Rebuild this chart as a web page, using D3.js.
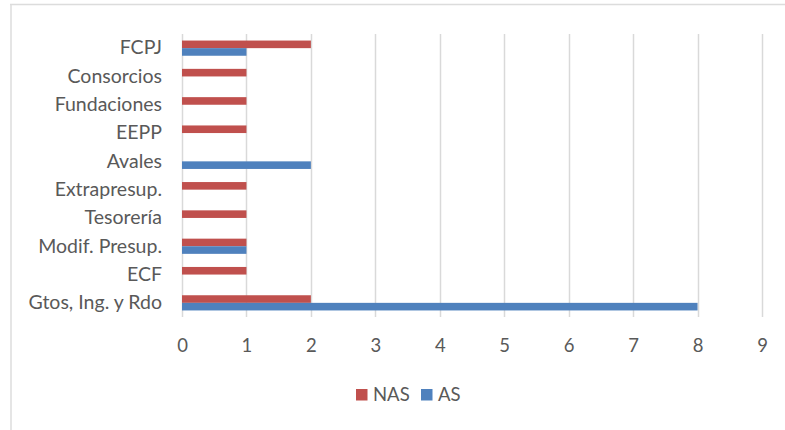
<!DOCTYPE html>
<html>
<head>
<meta charset="utf-8">
<script src="https://cdn.jsdelivr.net/npm/d3@7"></script>
<style>
  html, body { margin: 0; padding: 0; background: #fff; }
  svg { display: block; }
  text { font-family: Lato, "Open Sans", sans-serif; fill: #595959; }
</style>
</head>
<body>
<svg id="chart" width="785" height="430"></svg>
<script>
// Data (categories listed top to bottom as shown)
const categories = ["FCPJ", "Consorcios", "Fundaciones", "EEPP", "Avales", "Extrapresup.", "Tesorería", "Modif. Presup.", "ECF", "Gtos, Ing. y Rdo"];
const seriesNames = ["NAS", "AS"];
const nasValues = [2, 1, 1, 1, 0, 1, 1, 1, 1, 2];
const asValues  = [1, 0, 0, 0, 2, 0, 0, 1, 0, 8];
const xTicks = [0, 1, 2, 3, 4, 5, 6, 7, 8, 9];
const colors = { NAS: "#C0504D", AS: "#4F81BD" };

const svg = d3.select("#chart");

// chart border (top and left visible)
svg.append("line").attr("x1", 10).attr("x2", 785).attr("y1", 4.5).attr("y2", 4.5)
  .attr("stroke", "#dcdcdc").attr("stroke-width", 1.5);
svg.append("line").attr("x1", 11).attr("x2", 11).attr("y1", 4).attr("y2", 430)
  .attr("stroke", "#dcdcdc").attr("stroke-width", 1.5);

const plot = { left: 182, right: 762, top: 34, bottom: 317 };

const x = d3.scaleLinear().domain([0, 9]).range([plot.left, plot.right]);
const y = d3.scaleBand().domain(categories).range([plot.top, plot.bottom])
  .paddingInner(0.463).paddingOuter(0.2315);
const ySub = d3.scaleBand().domain(seriesNames).range([0, y.bandwidth()]);

// gridlines
svg.append("g").selectAll("line").data(xTicks).join("line")
  .attr("x1", d => Math.round(x(d)) + 0.5).attr("x2", d => Math.round(x(d)) + 0.5)
  .attr("y1", plot.top).attr("y2", plot.bottom)
  .attr("stroke", "#d9d9d9").attr("stroke-width", 1.5);

// x axis labels
const xAxis = d3.axisBottom(x).tickValues(xTicks).tickSize(0).tickPadding(0).tickFormat(d3.format("d"));
const gx = svg.append("g").attr("transform", `translate(0,${plot.bottom + 21.5})`).call(xAxis);
gx.select(".domain").remove();
gx.selectAll("text").attr("font-size", 18.5).attr("fill", "#595959")
  .style("font-family", "Lato, 'Open Sans', sans-serif");

// y axis labels
const yAxis = d3.axisLeft(y).tickSize(0).tickPadding(20);
const gy = svg.append("g").attr("transform", `translate(${plot.left},0)`).call(yAxis);
gy.select(".domain").remove();
gy.selectAll("text").attr("font-size", 19.5).attr("fill", "#595959")
  .style("font-family", "Lato, 'Open Sans', sans-serif");

// bars
const rows = categories.map((c, i) => ({ cat: c, NAS: nasValues[i], AS: asValues[i] }));
const g = svg.append("g");
seriesNames.forEach(s => {
  g.selectAll(null).data(rows.filter(r => r[s] > 0)).join("rect")
    .attr("x", x(0))
    .attr("y", d => y(d.cat) + ySub(s))
    .attr("width", d => x(d[s]) - x(0))
    .attr("height", ySub.bandwidth())
    .attr("fill", colors[s]);
});

// legend
const legend = svg.append("g").attr("transform", "translate(356,389)");
const items = [{ name: "NAS", dx: 0 }, { name: "AS", dx: 65 }];
items.forEach(it => {
  const li = legend.append("g").attr("transform", `translate(${it.dx},0)`);
  li.append("rect").attr("width", 11.5).attr("height", 11.5).attr("fill", colors[it.name]);
  li.append("text").attr("x", 17).attr("y", 12)
    .attr("font-size", 18.5).text(it.name);
});
</script>
</body>
</html>
